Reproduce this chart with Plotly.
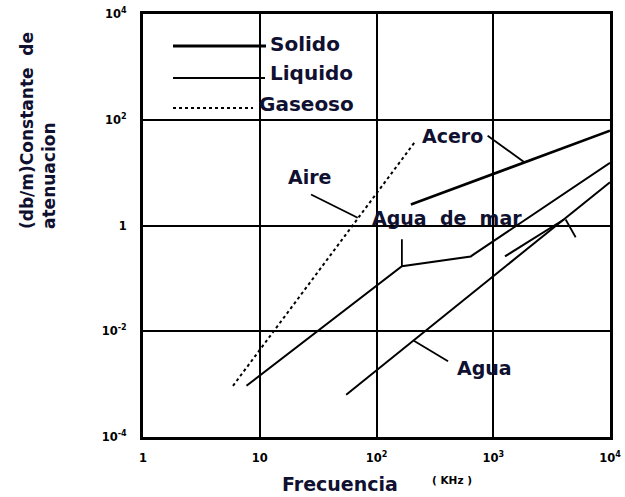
import math
import plotly.graph_objects as go

# ---- data: attenuation constant (dB/m) vs frequency (kHz) ----
freq_aire = [5.9, 217]
aten_aire = [9.3e-4, 40]

freq_agua_mar = [7.7, 165, 641, 10000]
aten_agua_mar = [9.3e-4, 0.17, 0.26, 15.4]

freq_acero = [197, 10000]
aten_acero = [2.5, 62]

freq_agua = [55, 10000]
aten_agua = [6.3e-4, 6.6]

freq_agua_b = [1260, 4030]
aten_agua_b = [0.26, 1.3]

x_ticks = [1, 10, 100, 1000, 10000]
x_tick_text = ["1", "10", "10<sup>2</sup>", "10<sup>3</sup>", "10<sup>4</sup>"]
y_ticks = [1e-4, 1e-2, 1, 1e2, 1e4]
y_tick_text = ["10<sup>-4</sup>", "10<sup>-2</sup>", "1", "10<sup>2</sup>", "10<sup>4</sup>"]

# leader lines joining each label to its curve (data units)
leaders = {
    "Acero": ([895, 1860], [50, 15.5]),
    "Aire": ([27.5, 69], [3.85, 1.4]),
    "Agua de mar": ([165, 165], [0.55, 0.17]),
    "Agua": ([209, 410], [6.6e-3, 2.7e-3]),
    "extra": ([4170, 5080], [1.3, 0.6]),
}
# label centres (log10 data units)
labels = {
    "Acero": (2.647, 1.70),
    "Aire": (1.424, 0.925),
    "Agua\u00a0 de\u00a0 mar": (2.605, 0.151),
    "Agua": (2.924, -2.686),
}

W, H = 625, 497
PL, PR, PT, PB = 143, 610, 14, 437


def px(x):
    return (x - PL) / (PR - PL)


def py(y):
    return (PB - y) / (PB - PT)


INK = "#101030"
FONT = "DejaVu Sans"
SOLID_W = 2.6
LIQ_W = 2.0

fig = go.Figure()

fig.add_trace(go.Scatter(x=freq_aire, y=aten_aire, mode="lines",
                         line=dict(color="black", width=2, dash="dot")))
fig.add_trace(go.Scatter(x=freq_agua_mar, y=aten_agua_mar, mode="lines",
                         line=dict(color="black", width=LIQ_W)))
fig.add_trace(go.Scatter(x=freq_acero, y=aten_acero, mode="lines",
                         line=dict(color="black", width=SOLID_W)))
fig.add_trace(go.Scatter(x=freq_agua, y=aten_agua, mode="lines",
                         line=dict(color="black", width=LIQ_W)))
fig.add_trace(go.Scatter(x=freq_agua_b, y=aten_agua_b, mode="lines",
                         line=dict(color="black", width=LIQ_W)))

for lx, ly in leaders.values():
    fig.add_trace(go.Scatter(x=lx, y=ly, mode="lines",
                             line=dict(color="black", width=1.8)))

for text, (lx, ly) in labels.items():
    fig.add_annotation(x=lx, y=ly, xref="x", yref="y", text=text, showarrow=False,
                       xanchor="center", yanchor="middle",
                       font=dict(family=FONT, size=19, color=INK, weight="bold"))

shapes = []
# white patches breaking the grid behind the legend and the labels
for x0, y0, x1, y1 in [(146, 16, 366, 115), (364, 203, 523, 231), (453, 358, 512, 387)]:
    shapes.append(dict(type="rect", xref="paper", yref="paper", layer="between",
                       x0=px(x0), x1=px(x1), y0=py(y1), y1=py(y0),
                       fillcolor="white", line=dict(width=0)))

# legend
legend_rows = [("Solido", 46, 44, dict(width=3, dash="solid"), 266, 268),
               ("Liquido", 78, 73, dict(width=2, dash="solid"), 265, 268),
               ("Gaseoso", 108, 104, dict(width=2, dash="dot"), 253, 257)]
for name, yl, yt, st, xend, xtext in legend_rows:
    shapes.append(dict(type="line", xref="paper", yref="paper", layer="above",
                       x0=px(173), x1=px(xend), y0=py(yl), y1=py(yl),
                       line=dict(color="black", **st)))
    fig.add_annotation(x=px(xtext), y=py(yt), xref="paper", yref="paper", text=name,
                       showarrow=False, xanchor="left", yanchor="middle",
                       font=dict(family=FONT, size=20, color=INK, weight="bold"))

fig.add_annotation(x=px(340), y=py(484), xref="paper", yref="paper", text="Frecuencia",
                   showarrow=False, xanchor="center", yanchor="middle",
                   font=dict(family=FONT, size=19, color=INK, weight="bold"))
fig.add_annotation(x=px(452), y=py(480), xref="paper", yref="paper", text="( KHz )",
                   showarrow=False, xanchor="center", yanchor="middle",
                   font=dict(family=FONT, size=10.5, color="black", weight="bold"))
fig.add_annotation(x=px(38), y=py(131), xref="paper", yref="paper",
                   text="(db/m)Constante\u00a0 de<br>atenuacion", textangle=-90, align="left",
                   showarrow=False, xanchor="center", yanchor="middle",
                   font=dict(family=FONT, size=17, color=INK, weight="bold"))

axis_common = dict(type="log", showgrid=True, gridcolor="black", gridwidth=2,
                   showline=True, linecolor="black", linewidth=3, mirror=True,
                   ticks="", zeroline=False, automargin=False,
                   tickfont=dict(family=FONT, size=11.5, color="black", weight="bold"))

fig.update_xaxes(range=[0, 4], tickvals=x_ticks, ticktext=x_tick_text,
                 ticklabelstandoff=8, **axis_common)
fig.update_yaxes(range=[-4, 4], tickvals=y_ticks, ticktext=y_tick_text,
                 ticklabelstandoff=11, **axis_common)

fig.update_layout(width=W, height=H, showlegend=False,
                  margin=dict(l=PL, r=W - PR, t=PT, b=H - PB),
                  paper_bgcolor="white", plot_bgcolor="white", shapes=shapes)

fig.write_html("out.html")
